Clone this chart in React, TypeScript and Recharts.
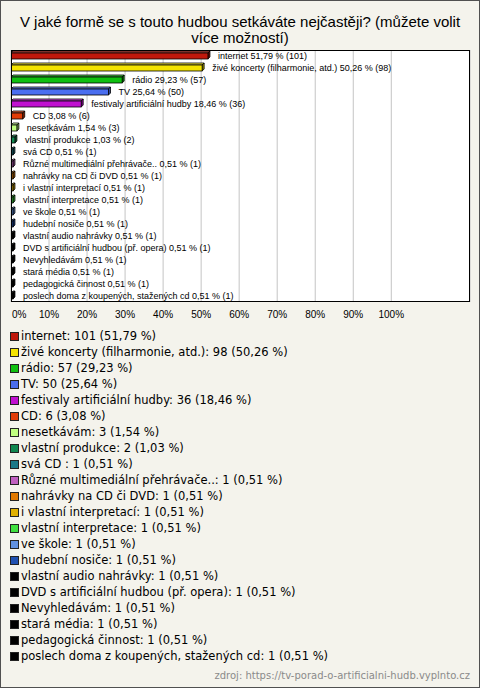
import React from "react";
import { BarChart, Bar, XAxis, YAxis, CartesianGrid, Cell, LabelList } from "recharts";

const names = [
  "internet",
  "živé koncerty (filharmonie, atd.)",
  "rádio",
  "TV",
  "festivaly artificiální hudby",
  "CD",
  "nesetkávám",
  "vlastní produkce",
  "svá CD ",
  "Různé multimediální přehrávače..",
  "nahrávky na CD či DVD",
  "i vlastní interpretací",
  "vlastní interpretace",
  "ve škole",
  "hudební nosiče",
  "vlastní audio nahrávky",
  "DVD s artificiální hudbou (př. opera)",
  "Nevyhledávám",
  "stará média",
  "pedagogická činnost",
  "poslech doma z koupených, stažených cd",
];
const counts = [101, 98, 57, 50, 36, 6, 3, 2, 1, 1, 1, 1, 1, 1, 1, 1, 1, 1, 1, 1, 1];
const percents = [51.79, 50.26, 29.23, 25.64, 18.46, 3.08, 1.54, 1.03, 0.51, 0.51, 0.51, 0.51, 0.51, 0.51, 0.51, 0.51, 0.51, 0.51, 0.51, 0.51, 0.51];
const colors = [
  "#c0180c", "#f4e400", "#10c010", "#4a6ef0", "#c010d0", "#e03c08", "#c0ff80",
  "#108850", "#1a7888", "#c060c0", "#e07800", "#e0b000", "#40e040", "#6090e0",
  "#2050b0", "#000000", "#000000", "#000000", "#000000", "#000000", "#000000",
];
const xTicks = [0, 10, 20, 30, 40, 50, 60, 70, 80, 90, 100];

const title1 = "V jaké formě se s touto hudbou setkáváte nejčastěji? (můžete volit";
const title2 = "více možností)";
const source = "zdroj: https://tv-porad-o-artificialni-hudb.vyplnto.cz";

const fmt = (p: number) => p.toFixed(2).replace(".", ",");

const rows = names.map((n, i) => ({ name: n, pct: percents[i], count: counts[i] }));

function shade(hex: string, f: number) {
  const n = parseInt(hex.slice(1), 16);
  let r = (n >> 16) & 255, g = (n >> 8) & 255, b = n & 255;
  if (f >= 0) {
    r = r + (255 - r) * f; g = g + (255 - g) * f; b = b + (255 - b) * f;
  } else {
    r = r * (1 + f); g = g * (1 + f); b = b * (1 + f);
  }
  return `rgb(${Math.round(r)},${Math.round(g)},${Math.round(b)})`;
}

const Bar3D = (props: any) => {
  const { x, y, width, height, fill } = props;
  const d = 2;
  return (
    <g>
      <polygon
        points={`${x},${y} ${x + d},${y - d} ${x + width + d},${y - d} ${x + width},${y}`}
        fill={shade(fill, 0.25)}
        stroke="#000"
        strokeWidth={0.8}
      />
      <polygon
        points={`${x + width},${y} ${x + width + d},${y - d} ${x + width + d},${y + height - d} ${x + width},${y + height}`}
        fill={shade(fill, -0.35)}
        stroke="#000"
        strokeWidth={0.8}
      />
      <rect x={x} y={y} width={width} height={height} fill={fill} stroke="#000" strokeWidth={0.8} />
    </g>
  );
};

const renderLabel = (props: any) => {
  const { x, y, width, height, index } = props;
  const i = index as number;
  return (
    <text
      x={x + width + 10}
      y={y + height / 2}
      dominantBaseline="central"
      fontFamily="'Liberation Sans', Arial, sans-serif"
      fontSize={9}
      fill="#000"
    >
      {`${names[i]} ${fmt(percents[i])} % (${counts[i]})`}
    </text>
  );
};

const XTick = (props: any) => {
  const { x, y, payload } = props;
  const first = payload.value === 0;
  return (
    <text
      x={first ? x + 1 : x}
      y={y + 16}
      textAnchor={first ? "start" : "middle"}
      fontFamily="'Liberation Sans', Arial, sans-serif"
      fontSize={10}
      fill="#000"
    >
      {`${payload.value}%`}
    </text>
  );
};

export default function App() {
  return (
    <div
      style={{
        position: "absolute",
        left: 0,
        top: 0,
        width: 480,
        height: 688,
        boxSizing: "border-box",
        border: "1px solid #505050",
        background: "#f4f3ec",
        overflow: "hidden",
      }}
    >
      <div
        style={{
          position: "absolute",
          left: -1,
          top: 13,
          width: 480,
          textAlign: "center",
          fontFamily: "'Liberation Sans', Arial, sans-serif",
          fontSize: 15,
          lineHeight: "16px",
          color: "#000",
        }}
      >
        <div>{title1}</div>
        <div>{title2}</div>
      </div>
      <div style={{ position: "absolute", left: -1, top: -1 }}>
        <BarChart
          layout="vertical"
          width={480}
          height={330}
          data={rows}
          margin={{ top: 50, right: 10, bottom: 0, left: 11 }}
          barCategoryGap={0}
        >
          <CartesianGrid horizontal={false} stroke="#c4c4c4" fill="#ffffff" />
          <XAxis
            type="number"
            domain={[0, 120.7]}
            ticks={xTicks}
            interval={0}
            tick={<XTick />}
            tickLine={false}
            tickSize={0}
            tickMargin={0}
            axisLine={false}
            height={28}
            allowDataOverflow
          />
          <YAxis type="category" dataKey="name" hide />
          <Bar dataKey="pct" barSize={6} shape={<Bar3D />} isAnimationActive={false}>
            {colors.map((c, i) => (
              <Cell key={i} fill={c} />
            ))}
            <LabelList dataKey="pct" content={renderLabel} />
          </Bar>
        </BarChart>
        <div
          style={{
            position: "absolute",
            left: 11,
            top: 50,
            width: 459,
            height: 252,
            boxSizing: "border-box",
            border: "1px solid #000",
            pointerEvents: "none",
          }}
        />
      </div>
      <div
        style={{
          position: "absolute",
          left: 9,
          top: 327,
          fontFamily: "'DejaVu Sans', Verdana, sans-serif",
          fontSize: 11.5,
          color: "#000",
        }}
      >
        {names.map((n, i) => (
          <div key={i} style={{ height: 16, display: "flex", alignItems: "center", whiteSpace: "pre" }}>
            <span
              style={{
                display: "inline-block",
                width: 7,
                height: 7,
                border: "1px solid #222",
                background: colors[i],
                marginRight: 2,
              }}
            />
            <span>{`${n}: ${counts[i]} (${fmt(percents[i])} %)`}</span>
          </div>
        ))}
      </div>
      <div
        style={{
          position: "absolute",
          right: 9,
          top: 669,
          fontFamily: "'DejaVu Sans', Verdana, sans-serif",
          fontSize: 10,
          color: "#8a8a8a",
        }}
      >
        {source}
      </div>
    </div>
  );
}
